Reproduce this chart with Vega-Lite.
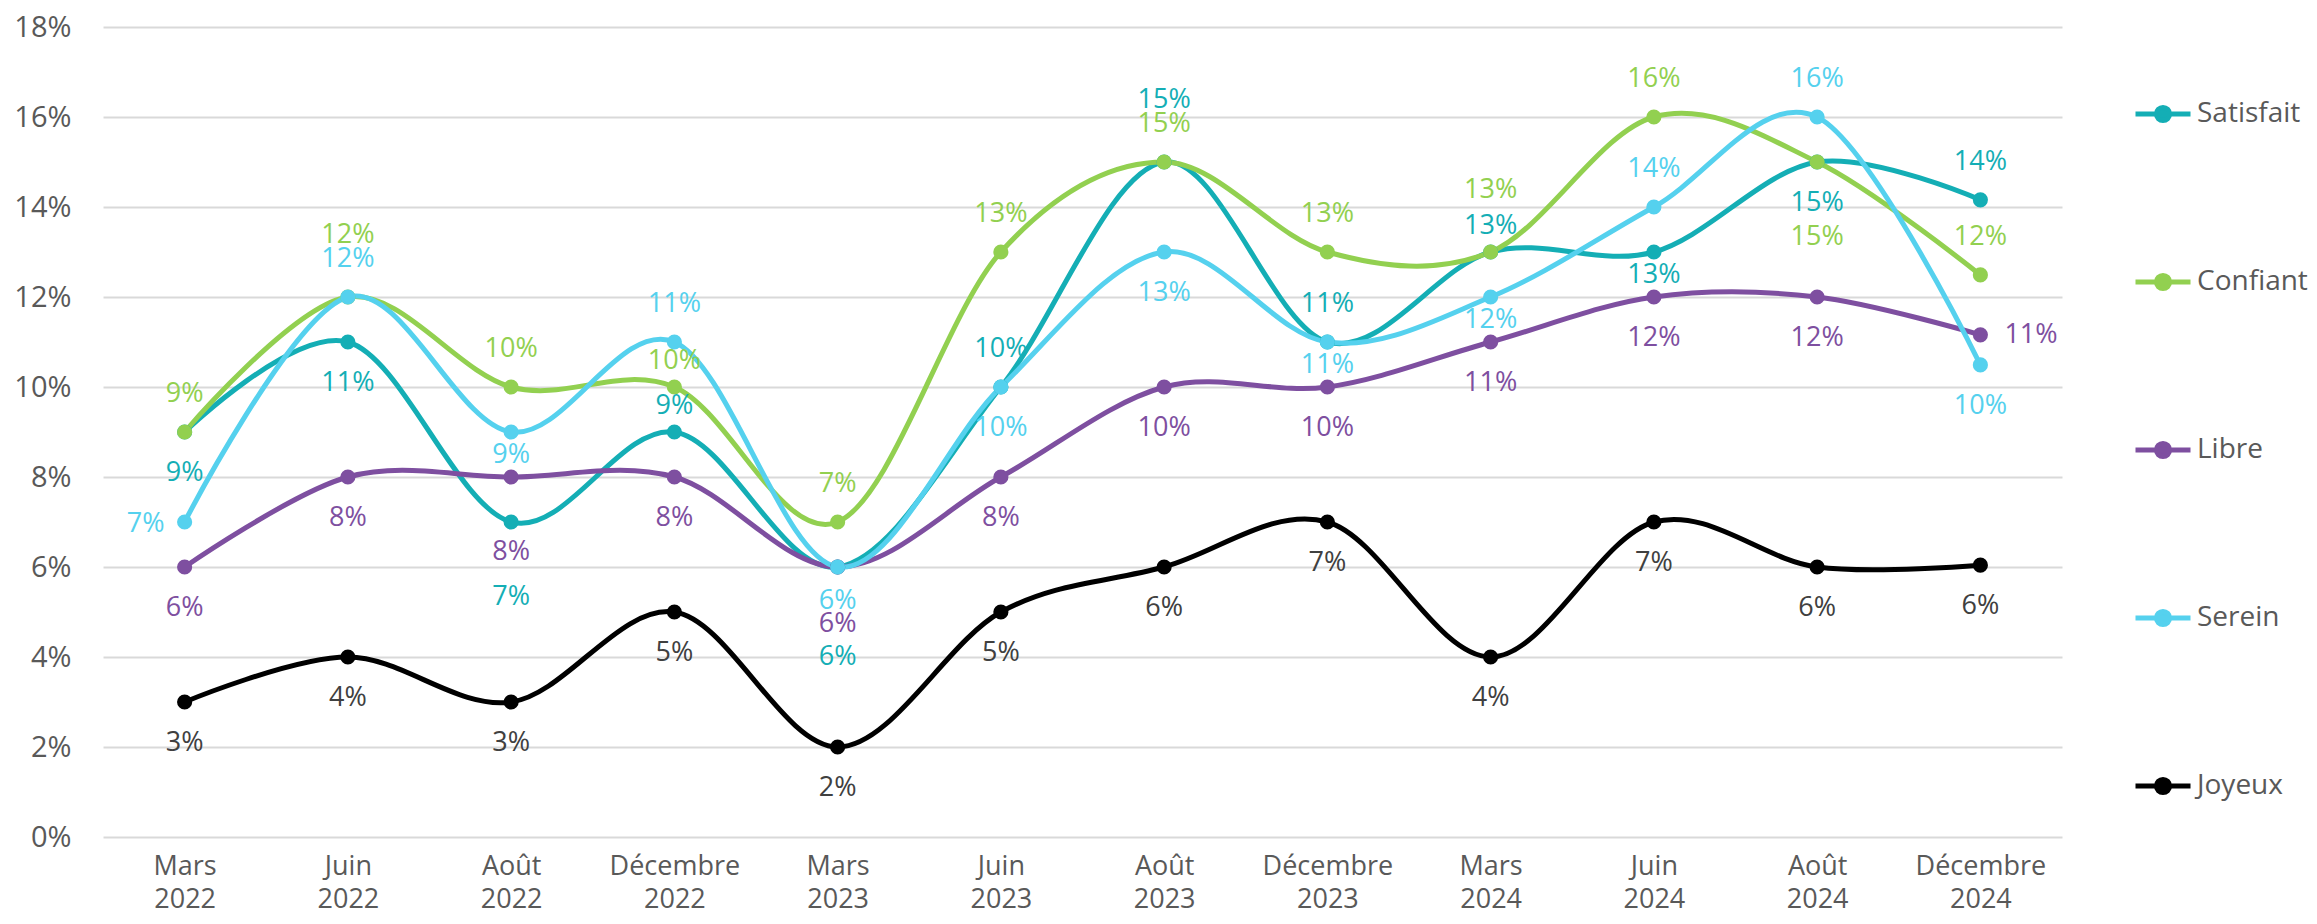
{
  "$schema": "https://vega.github.io/schema/vega-lite/v6.json",
  "width": 1959,
  "height": 810,
  "autosize": {"type": "none"},
  "padding": {"left": 103, "top": 27, "right": 255, "bottom": 87},
  "background": "white",
  "config": {
    "font": "Open Sans",
    "view": {"stroke": null},
    "text": {"font": "Open Sans"}
  },
  "data": {
    "values": [
      {"serie": "Satisfait", "periode": "Mars 2022", "valeur": 0.09},
      {"serie": "Satisfait", "periode": "Juin 2022", "valeur": 0.11},
      {"serie": "Satisfait", "periode": "Août 2022", "valeur": 0.07},
      {"serie": "Satisfait", "periode": "Décembre 2022", "valeur": 0.09},
      {"serie": "Satisfait", "periode": "Mars 2023", "valeur": 0.06},
      {"serie": "Satisfait", "periode": "Juin 2023", "valeur": 0.10},
      {"serie": "Satisfait", "periode": "Août 2023", "valeur": 0.15},
      {"serie": "Satisfait", "periode": "Décembre 2023", "valeur": 0.11},
      {"serie": "Satisfait", "periode": "Mars 2024", "valeur": 0.13},
      {"serie": "Satisfait", "periode": "Juin 2024", "valeur": 0.13},
      {"serie": "Satisfait", "periode": "Août 2024", "valeur": 0.15},
      {"serie": "Satisfait", "periode": "Décembre 2024", "valeur": 0.1416},
      {"serie": "Confiant", "periode": "Mars 2022", "valeur": 0.09},
      {"serie": "Confiant", "periode": "Juin 2022", "valeur": 0.12},
      {"serie": "Confiant", "periode": "Août 2022", "valeur": 0.10},
      {"serie": "Confiant", "periode": "Décembre 2022", "valeur": 0.10},
      {"serie": "Confiant", "periode": "Mars 2023", "valeur": 0.07},
      {"serie": "Confiant", "periode": "Juin 2023", "valeur": 0.13},
      {"serie": "Confiant", "periode": "Août 2023", "valeur": 0.15},
      {"serie": "Confiant", "periode": "Décembre 2023", "valeur": 0.13},
      {"serie": "Confiant", "periode": "Mars 2024", "valeur": 0.13},
      {"serie": "Confiant", "periode": "Juin 2024", "valeur": 0.16},
      {"serie": "Confiant", "periode": "Août 2024", "valeur": 0.15},
      {"serie": "Confiant", "periode": "Décembre 2024", "valeur": 0.1249},
      {"serie": "Libre", "periode": "Mars 2022", "valeur": 0.06},
      {"serie": "Libre", "periode": "Juin 2022", "valeur": 0.08},
      {"serie": "Libre", "periode": "Août 2022", "valeur": 0.08},
      {"serie": "Libre", "periode": "Décembre 2022", "valeur": 0.08},
      {"serie": "Libre", "periode": "Mars 2023", "valeur": 0.06},
      {"serie": "Libre", "periode": "Juin 2023", "valeur": 0.08},
      {"serie": "Libre", "periode": "Août 2023", "valeur": 0.10},
      {"serie": "Libre", "periode": "Décembre 2023", "valeur": 0.10},
      {"serie": "Libre", "periode": "Mars 2024", "valeur": 0.11},
      {"serie": "Libre", "periode": "Juin 2024", "valeur": 0.12},
      {"serie": "Libre", "periode": "Août 2024", "valeur": 0.12},
      {"serie": "Libre", "periode": "Décembre 2024", "valeur": 0.1116},
      {"serie": "Serein", "periode": "Mars 2022", "valeur": 0.07},
      {"serie": "Serein", "periode": "Juin 2022", "valeur": 0.12},
      {"serie": "Serein", "periode": "Août 2022", "valeur": 0.09},
      {"serie": "Serein", "periode": "Décembre 2022", "valeur": 0.11},
      {"serie": "Serein", "periode": "Mars 2023", "valeur": 0.06},
      {"serie": "Serein", "periode": "Juin 2023", "valeur": 0.10},
      {"serie": "Serein", "periode": "Août 2023", "valeur": 0.13},
      {"serie": "Serein", "periode": "Décembre 2023", "valeur": 0.11},
      {"serie": "Serein", "periode": "Mars 2024", "valeur": 0.12},
      {"serie": "Serein", "periode": "Juin 2024", "valeur": 0.14},
      {"serie": "Serein", "periode": "Août 2024", "valeur": 0.16},
      {"serie": "Serein", "periode": "Décembre 2024", "valeur": 0.1049},
      {"serie": "Joyeux", "periode": "Mars 2022", "valeur": 0.03},
      {"serie": "Joyeux", "periode": "Juin 2022", "valeur": 0.04},
      {"serie": "Joyeux", "periode": "Août 2022", "valeur": 0.03},
      {"serie": "Joyeux", "periode": "Décembre 2022", "valeur": 0.05},
      {"serie": "Joyeux", "periode": "Mars 2023", "valeur": 0.02},
      {"serie": "Joyeux", "periode": "Juin 2023", "valeur": 0.05},
      {"serie": "Joyeux", "periode": "Août 2023", "valeur": 0.06},
      {"serie": "Joyeux", "periode": "Décembre 2023", "valeur": 0.07},
      {"serie": "Joyeux", "periode": "Mars 2024", "valeur": 0.04},
      {"serie": "Joyeux", "periode": "Juin 2024", "valeur": 0.07},
      {"serie": "Joyeux", "periode": "Août 2024", "valeur": 0.06},
      {"serie": "Joyeux", "periode": "Décembre 2024", "valeur": 0.0604}
    ]
  },
  "encoding": {
    "x": {
      "field": "periode",
      "type": "nominal",
      "sort": null,
      "scale": {"type": "point", "padding": 0.5},
      "axis": {
        "title": null,
        "labelExpr": "split(datum.label, ' ')",
        "labelFontSize": 27,
        "labelColor": "#595959",
        "labelLineHeight": 33,
        "labelAngle": 0,
        "ticks": false,
        "domain": false,
        "grid": false,
        "labelPadding": 16
      }
    },
    "y": {
      "field": "valeur",
      "type": "quantitative",
      "scale": {"domain": [0, 0.18], "nice": false, "zero": true},
      "axis": {
        "title": null,
        "values": [0, 0.02, 0.04, 0.06, 0.08, 0.1, 0.12, 0.14, 0.16, 0.18],
        "format": ".0%",
        "labelFontSize": 29,
        "labelColor": "#595959",
        "ticks": false,
        "domain": false,
        "gridColor": "#D9D9D9",
        "gridWidth": 2,
        "labelPadding": 32
      }
    }
  },
  "layer": [
    {
      "mark": {"type": "line", "interpolate": "cardinal", "strokeWidth": 5},
      "encoding": {
        "color": {
          "field": "serie",
          "type": "nominal",
          "scale": {
            "domain": ["Satisfait", "Confiant", "Libre", "Serein", "Joyeux"],
            "range": ["#14AEB5", "#92D050", "#7E4FA0", "#55D1EE", "#000000"]
          },
          "legend": {
            "orient": "none",
            "legendX": 2030,
            "legendY": 57,
            "title": null,
            "direction": "vertical",
            "symbolType": "M-1,0L1,0M-0.24,0A0.24,0.24,0,1,1,0.24,0A0.24,0.24,0,1,1,-0.24,0Z",
            "symbolSize": 3025,
            "symbolStrokeWidth": 5,
            "labelFontSize": 28,
            "labelColor": "#595959",
            "labelOffset": 4,
            "rowPadding": 121,
            "padding": 0,
            "encode": {
              "symbols": {
                "update": {
                  "stroke": {"scale": "color", "field": "value"},
                  "fill": {"scale": "color", "field": "value"},
                  "strokeWidth": {"value": 5},
                  "opacity": {"value": 1}
                }
              }
            }
          }
        }
      }
    },
    {
      "mark": {"type": "point", "filled": true, "size": 230, "opacity": 1},
      "encoding": {
        "color": {
          "field": "serie",
          "type": "nominal",
          "legend": {
            "orient": "none",
            "legendX": 2030,
            "legendY": 57,
            "title": null,
            "direction": "vertical",
            "symbolType": "M-1,0L1,0M-0.24,0A0.24,0.24,0,1,1,0.24,0A0.24,0.24,0,1,1,-0.24,0Z",
            "symbolSize": 3025,
            "symbolStrokeWidth": 5,
            "labelFontSize": 28,
            "labelColor": "#595959",
            "labelOffset": 4,
            "rowPadding": 121,
            "padding": 0,
            "encode": {
              "symbols": {
                "update": {
                  "stroke": {"scale": "color", "field": "value"},
                  "fill": {"scale": "color", "field": "value"},
                  "strokeWidth": {"value": 5},
                  "opacity": {"value": 1}
                }
              }
            }
          }
        }
      }
    },
    {
      "encoding": {
        "text": {"field": "valeur", "type": "quantitative", "format": ".0%"},
        "color": {
          "condition": {"test": "datum.serie === 'Joyeux'", "value": "#404040"},
          "field": "serie",
          "type": "nominal"
        }
      },
      "layer": [
        {
          "transform": [{"filter": "indexof(['Confiant|Mars 2022','Confiant|Août 2022','Confiant|Mars 2023','Confiant|Juin 2023','Confiant|Août 2023','Confiant|Décembre 2023','Confiant|Juin 2024','Confiant|Décembre 2024','Serein|Juin 2022','Serein|Décembre 2022','Serein|Juin 2024','Serein|Août 2024','Satisfait|Juin 2023','Satisfait|Décembre 2023','Satisfait|Décembre 2024'], datum.serie + '|' + datum.periode) >= 0"}],
          "mark": {"type": "text", "fontSize": 27, "baseline": "middle", "dy": -38}
        },
        {
          "transform": [{"filter": "indexof(['Confiant|Juin 2022','Satisfait|Août 2023','Confiant|Mars 2024'], datum.serie + '|' + datum.periode) >= 0"}],
          "mark": {"type": "text", "fontSize": 27, "baseline": "middle", "dy": -62}
        },
        {
          "transform": [{"filter": "indexof(['Confiant|Décembre 2022','Satisfait|Décembre 2022','Satisfait|Mars 2024'], datum.serie + '|' + datum.periode) >= 0"}],
          "mark": {"type": "text", "fontSize": 27, "baseline": "middle", "dy": -26}
        },
        {
          "transform": [{"filter": "datum.serie === 'Joyeux' || indexof(['Satisfait|Mars 2022','Satisfait|Juin 2022','Satisfait|Août 2024','Libre|Mars 2022','Libre|Juin 2022','Libre|Décembre 2022','Libre|Juin 2023','Libre|Août 2023','Libre|Décembre 2023','Libre|Mars 2024','Libre|Juin 2024','Libre|Août 2024','Serein|Juin 2023','Serein|Août 2023','Serein|Décembre 2024'], datum.serie + '|' + datum.periode) >= 0"}],
          "mark": {"type": "text", "fontSize": 27, "baseline": "middle", "dy": 41}
        },
        {
          "transform": [{"filter": "indexof(['Serein|Août 2022','Serein|Décembre 2023','Serein|Mars 2024','Satisfait|Juin 2024'], datum.serie + '|' + datum.periode) >= 0"}],
          "mark": {"type": "text", "fontSize": 27, "baseline": "middle", "dy": 23}
        },
        {
          "transform": [{"filter": "datum.serie === 'Serein' && datum.periode === 'Mars 2023'"}],
          "mark": {"type": "text", "fontSize": 27, "baseline": "middle", "dy": 34}
        },
        {
          "transform": [{"filter": "datum.serie === 'Libre' && datum.periode === 'Mars 2023'"}],
          "mark": {"type": "text", "fontSize": 27, "baseline": "middle", "dy": 57}
        },
        {
          "transform": [{"filter": "datum.serie === 'Satisfait' && datum.periode === 'Mars 2023'"}],
          "mark": {"type": "text", "fontSize": 27, "baseline": "middle", "dy": 90}
        },
        {
          "transform": [{"filter": "indexof(['Satisfait|Août 2022','Libre|Août 2022','Confiant|Août 2024'], datum.serie + '|' + datum.periode) >= 0"}],
          "mark": {"type": "text", "fontSize": 27, "baseline": "middle", "dy": 75}
        },
        {
          "transform": [{"filter": "datum.serie === 'Serein' && datum.periode === 'Mars 2022'"}],
          "mark": {"type": "text", "fontSize": 27, "baseline": "middle", "align": "right", "dx": -20, "dy": 2}
        },
        {
          "transform": [{"filter": "datum.serie === 'Libre' && datum.periode === 'Décembre 2024'"}],
          "mark": {"type": "text", "fontSize": 27, "baseline": "middle", "align": "left", "dx": 24, "dy": 0}
        }
      ]
    }
  ]
}
